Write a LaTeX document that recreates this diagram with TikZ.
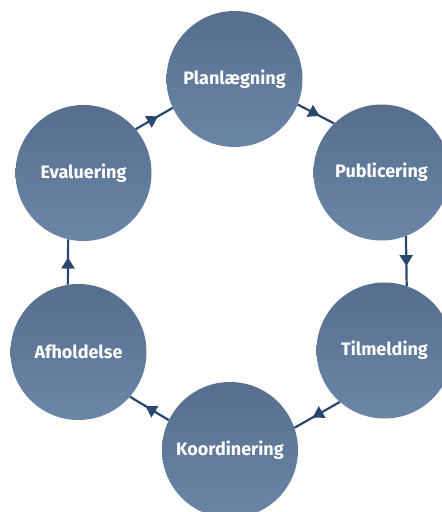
\documentclass[tikz,border=0pt]{standalone}
\usepackage{fontspec}
\setsansfont{Fira Sans}
\usetikzlibrary{arrows.meta,decorations.markings}
\definecolor{circtop}{RGB}{87,110,141}
\definecolor{circbot}{RGB}{106,134,167}
\definecolor{linkcol}{RGB}{42,70,108}
\tikzset{
  stage/.style={circle, minimum size=136pt, inner sep=0pt, top color=circtop, bottom color=circbot, draw=none,
    text=white, font=\sffamily\bfseries\fontsize{18}{21}\selectfont},
  link/.style={draw=linkcol, line width=2.2pt, postaction={decorate},
    decoration={markings, mark=at position 0.6 with {\arrow{Triangle[length=11pt,width=13pt]}}}, color=linkcol}
}
\begin{document}
\begin{tikzpicture}[x=1pt,y=-1pt]
\useasboundingbox (0,0) rectangle (442,512);
\node[stage] (pl) at (234.5,79) {Planlægning};
\node[stage] (pub) at (381.5,172.5) {Publicering};
\node[stage] (til) at (384.5,350.5) {Tilmelding};
\node[stage] (ko) at (230,450) {Koordinering};
\node[stage] (af) at (78.5,352) {Afholdelse};
\node[stage] (ev) at (83.5,173) {Evaluering};
\node[text=black, font=\sffamily\bfseries\fontsize{17}{20}\selectfont, anchor=base, inner sep=0pt] (frag) at (320,-4.5) {g};
\draw[link] (ev.40) -- (pl.205);
\draw[link] (pl.-22) -- (pub.134);
\draw[link] (pub.291) -- (til.71);
\draw[link] (til.229) -- (ko.19.5);
\draw[link] (ko.154) -- (af.319);
\draw[link] (af.99) -- (ev.257);
\end{tikzpicture}
\end{document}
